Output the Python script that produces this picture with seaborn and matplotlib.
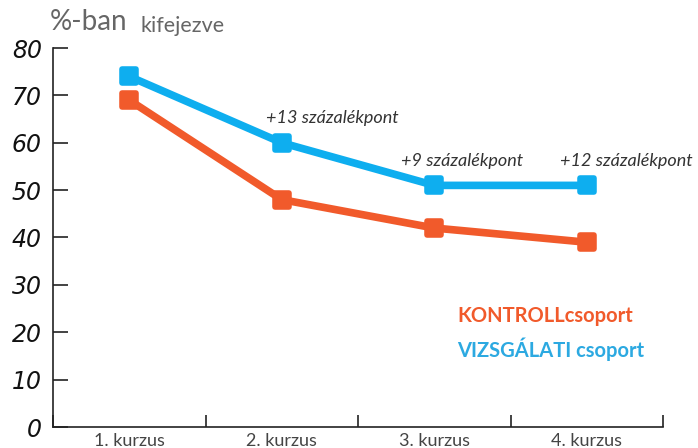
import pandas as pd
import matplotlib.pyplot as plt
import seaborn as sns
from matplotlib.markers import MarkerStyle
from matplotlib.font_manager import FontProperties

kurzusok = ['1. kurzus', '2. kurzus', '3. kurzus', '4. kurzus']
kontroll = [69, 48, 42, 39]
vizsgalati = [74, 60, 51, 51]
kulonbseg = ['', '+13 százalékpont', '+9 százalékpont', '+12 százalékpont']
y_ticks = [0, 10, 20, 30, 40, 50, 60, 70, 80]

# feliratok vízszintes eltolása a pontokhoz képest
felirat_eltolas = [0, 0.33, 0.18, 0.26]

narancs = '#F15A2B'
kek = '#0EAEEF'

df = pd.DataFrame({
    'x': list(range(4)) * 2,
    'ertek': kontroll + vizsgalati,
    'csoport': ['kontroll'] * 4 + ['vizsgalati'] * 4,
})

sns.set_style('white')
plt.rcParams['font.family'] = ['Lato', 'DejaVu Sans']

fig = plt.figure(figsize=(6.98, 4.48), dpi=100)
ax = fig.add_axes([53 / 698, 21 / 448, 610 / 698, 379 / 448])

jel = MarkerStyle('s', joinstyle='round')
sns.lineplot(data=df, x='x', y='ertek', hue='csoport', ax=ax,
             palette={'kontroll': narancs, 'vizsgalati': kek},
             hue_order=['kontroll', 'vizsgalati'],
             marker=jel, markersize=11, mew=4,
             linewidth=5.5, legend=False, solid_capstyle='round')
for ln in ax.lines:
    ln.set_markersize(10.5)
    ln.set_markeredgewidth(4)
    ln.set_markeredgecolor(ln.get_color())

ax.set_xlim(-0.5, 3.5)
ax.set_ylim(0, 80)
ax.set_xlabel('')
ax.set_ylabel('')

# tengelyek
for s in ['top', 'right']:
    ax.spines[s].set_visible(False)
for s in ['left', 'bottom']:
    ax.spines[s].set_color('#222222')
    ax.spines[s].set_linewidth(1.2)

fp = FontProperties(family='DejaVu Sans', style='oblique', size=17)
ax.set_yticks(y_ticks)
ax.set_yticklabels([str(v) for v in y_ticks], fontproperties=fp, color='#111111')
ax.tick_params(axis='y', direction='in', length=11, width=1.2, color='#222222', pad=8, left=True)

ax.set_xticks([-0.5, 0.5, 1.5, 2.5, 3.5])
ax.set_xticklabels([])
ax.set_xticks(range(4), minor=True)
ax.set_xticklabels(kurzusok, minor=True, fontsize=13, color='#444444')
ax.tick_params(axis='x', which='major', direction='in', length=9, width=1.2, color='#222222', bottom=True)
ax.tick_params(axis='x', which='minor', length=0, pad=4)

# különbségek
for i, t in enumerate(kulonbseg):
    if t:
        ax.text(i + felirat_eltolas[i], vizsgalati[i] + 5.2, t, ha='center', va='center',
                fontsize=13, style='italic', color='#333333')

# címke
fig.text(50 / 698, 1 - 22 / 448, '%-ban', fontsize=20, color='#666666',
         va='center', ha='left')
fig.text(140 / 698, 1 - 26 / 448, 'kifejezve', fontsize=15.5, color='#666666',
         va='center', ha='left')

# jelmagyarázat
fig.text(457 / 698, 1 - 316 / 448, 'KONTROLLcsoport', fontsize=14.5, fontweight='bold',
         color=narancs, va='center', ha='left')
fig.text(457 / 698, 1 - 349 / 448, 'VIZSGÁLATI csoport', fontsize=14.5, fontweight='bold',
         color='#2CA9E1', va='center', ha='left')

fig.savefig('out.png', dpi=100)
